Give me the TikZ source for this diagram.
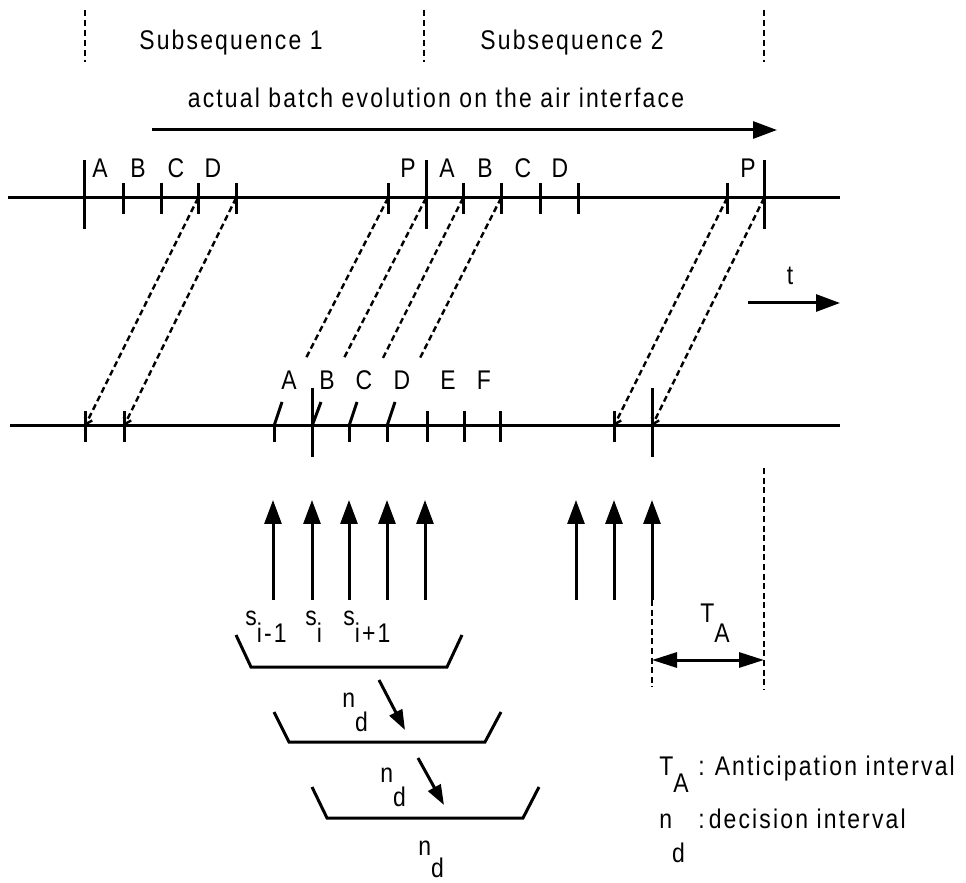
\documentclass[tikz,border=0pt]{standalone}
\usepackage{fontspec}
\setmainfont{Liberation Sans}[FakeStretch=0.85,LetterSpace=8]
\usepackage{tikz}
\usetikzlibrary{arrows.meta}
\newcommand{\lsub}[3]{#1\raisebox{-#3}{#2}}
\tikzset{
  tk/.style={line width=1.5pt},
  dsh/.style={line width=1.2pt,dash pattern=on 3pt off 1.8pt},
  sep/.style={line width=0.9pt,dash pattern=on 3pt off 2pt},
  barb/.style={-{Straight Barb[length=3pt,width=4pt]}},
  arr/.style={-{Triangle[length=12pt,width=8.5pt]},line width=1.5pt},
  darr/.style={{Triangle[length=12.5pt,width=7.5pt]}-{Triangle[length=12.5pt,width=7.5pt]},line width=1.5pt},
  sarr/.style={-{Triangle[length=10pt,width=7pt]},line width=1.5pt},
  lbl/.style={font=\fontsize{13.5pt}{16pt}\selectfont,inner sep=0pt,anchor=base},
}
\begin{document}
\begin{tikzpicture}[x=0.5pt,y=-0.5pt]
\useasboundingbox (0,0) rectangle (966,883);
% subsequences
\draw[sep] (85,10)--(85,62) (424,10)--(424,62) (764,10)--(764,62);
\node[lbl] (sub1) at (231,50) {Subsequence 1};
\node[lbl] (sub2) at (572,50) {Subsequence 2};
\node[lbl] (evo) at (436,108) {actual batch evolution on the air interface};
\draw[arr] (152,130)--(777,130);
% upper time line
\draw[tk] (8,198)--(840,198);
\coordinate (a1) at (84,198);\coordinate (a2) at (123,198);\coordinate (a3) at (161,198);\coordinate (a4) at (198,198);\coordinate (a5) at (236,198);
\coordinate (a6) at (388,198);\coordinate (a7) at (426,198);\coordinate (a8) at (463,198);\coordinate (a9) at (501,198);\coordinate (a10) at (540,198);
\coordinate (a11) at (578,198);\coordinate (a12) at (727,198);\coordinate (a13) at (764,198);
\draw[tk] (84,160)--(84,229) (426,160)--(426,229) (764,160)--(764,229);
\draw[tk] (123,183)--(123,214) (161,183)--(161,214) (198,183)--(198,214) (236,183)--(236,214) (388,183)--(388,214);
\draw[tk] (463,183)--(463,214) (501,183)--(501,214) (540,183)--(540,214) (578,183)--(578,214) (727,183)--(727,214);
\node[lbl] (uA) at (100,178) {A};\node[lbl] (uB) at (138,178) {B};\node[lbl] (uC) at (176,178) {C};\node[lbl] (uD) at (213,178) {D};
\node[lbl] (uP) at (408,178) {P};\node[lbl] (uA2) at (447,178) {A};\node[lbl] (uB2) at (485,178) {B};\node[lbl] (uC2) at (523,178) {C};
\node[lbl] (uD2) at (560,178) {D};\node[lbl] (uP2) at (748,178) {P};
% lower time line
\draw[tk] (10,426)--(840,426);
\coordinate (b1) at (85,426);\coordinate (b2) at (124,426);\coordinate (b3) at (274,426);\coordinate (b4) at (312,426);\coordinate (b5) at (349,426);
\coordinate (b6) at (387,426);\coordinate (b7) at (427,426);\coordinate (b8) at (464,426);\coordinate (b9) at (500,426);\coordinate (b10) at (614,426);
\coordinate (b11) at (652,426);
\draw[tk] (85,411)--(85,442) (124,411)--(124,442) (427,411)--(427,442) (464,411)--(464,442) (500,411)--(500,442) (614,411)--(614,442);
\draw[tk] (274,426)--(274,442) (349,426)--(349,442) (387,426)--(387,442);
\draw[tk] (312,388)--(312,457) (652,388)--(652,457);
\draw[tk] (b3)--++(8,-24) (b4)--++(9,-24) (b5)--++(8,-24) (b6)--++(8,-24);
\node[lbl] (lA) at (289,390) {A};\node[lbl] (lB) at (327,390) {B};\node[lbl] (lC) at (364,390) {C};
\node[lbl] (lD) at (402,390) {D};\node[lbl] (lE) at (448,390) {E};\node[lbl] (lF) at (484,390) {F};
% transfer
\coordinate (e1) at (305,360);\coordinate (e2) at (343,360);\coordinate (e3) at (382,360);\coordinate (e4) at (419,360);
\draw[dsh,barb] (a4)--(b1);\draw[dsh,barb] (a5)--(b2);\draw[dsh,barb] (a12)--(b10);\draw[dsh,barb] (a13)--(b11);
\draw[dsh] (a6)--(e1);\draw[dsh] (a7)--(e2);\draw[dsh] (a8)--(e3);\draw[dsh] (a9)--(e4);
\node[lbl] (t) at (790,285) {t};
\draw[arr] (748,303)--(840,303);
% decisions
\draw[arr] (273,600)--(273,500);\draw[arr] (312,600)--(312,500);\draw[arr] (349,600)--(349,500);\draw[arr] (387,600)--(387,500);
\draw[arr] (425,600)--(425,500);\draw[arr] (576,600)--(576,500);\draw[arr] (614,600)--(614,500);\draw[arr] (652,600)--(652,500);
\node[lbl,anchor=base west] (s1) at (245,625) {\lsub{s}{i-1}{8.5pt}};
\node[lbl,anchor=base west] (s2) at (305,625) {\lsub{s}{i}{8.5pt}};
\node[lbl,anchor=base west] (s3) at (343,625) {\lsub{s}{i+1}{8.5pt}};
\draw[tk] (236,635)--(251,667)--(447,667)--(462,635);
\draw[tk] (274,712)--(289,742)--(485,742)--(501,712);
\draw[tk] (312,787)--(327,818)--(523,818)--(539,787);
\draw[sarr] (379,680)--(405,730);\draw[sarr] (418,758)--(444,805);
\node[lbl,anchor=base west] (nd1) at (342,707) {\lsub{n}{d}{12.5pt}};
\node[lbl,anchor=base west] (nd2) at (380,782) {\lsub{n}{d}{12.5pt}};
\node[lbl,anchor=base west] (nd3) at (418,855) {\lsub{n}{d}{11pt}};
% anticipation
\draw[dsh] (652,600)--(652,687) (764,468)--(764,690);
\draw[darr] (652,660)--(764,660);
\node[lbl,anchor=base west] (ta) at (700,623) {\lsub{T}{A}{9.5pt}};
% legend
\node[lbl,anchor=base west] (kT) at (659,775) {\lsub{T}{A}{9pt}};
\node[lbl,anchor=base west] (kTt) at (698,775) {:\hspace{5pt}Anticipation interval};
\node[lbl,anchor=base west] (kn) at (659,828) {\lsub{n}{d}{17pt}};
\node[lbl,anchor=base west] (knt) at (698,828) {:\hspace{2pt}decision interval};
\end{tikzpicture}
\end{document}
